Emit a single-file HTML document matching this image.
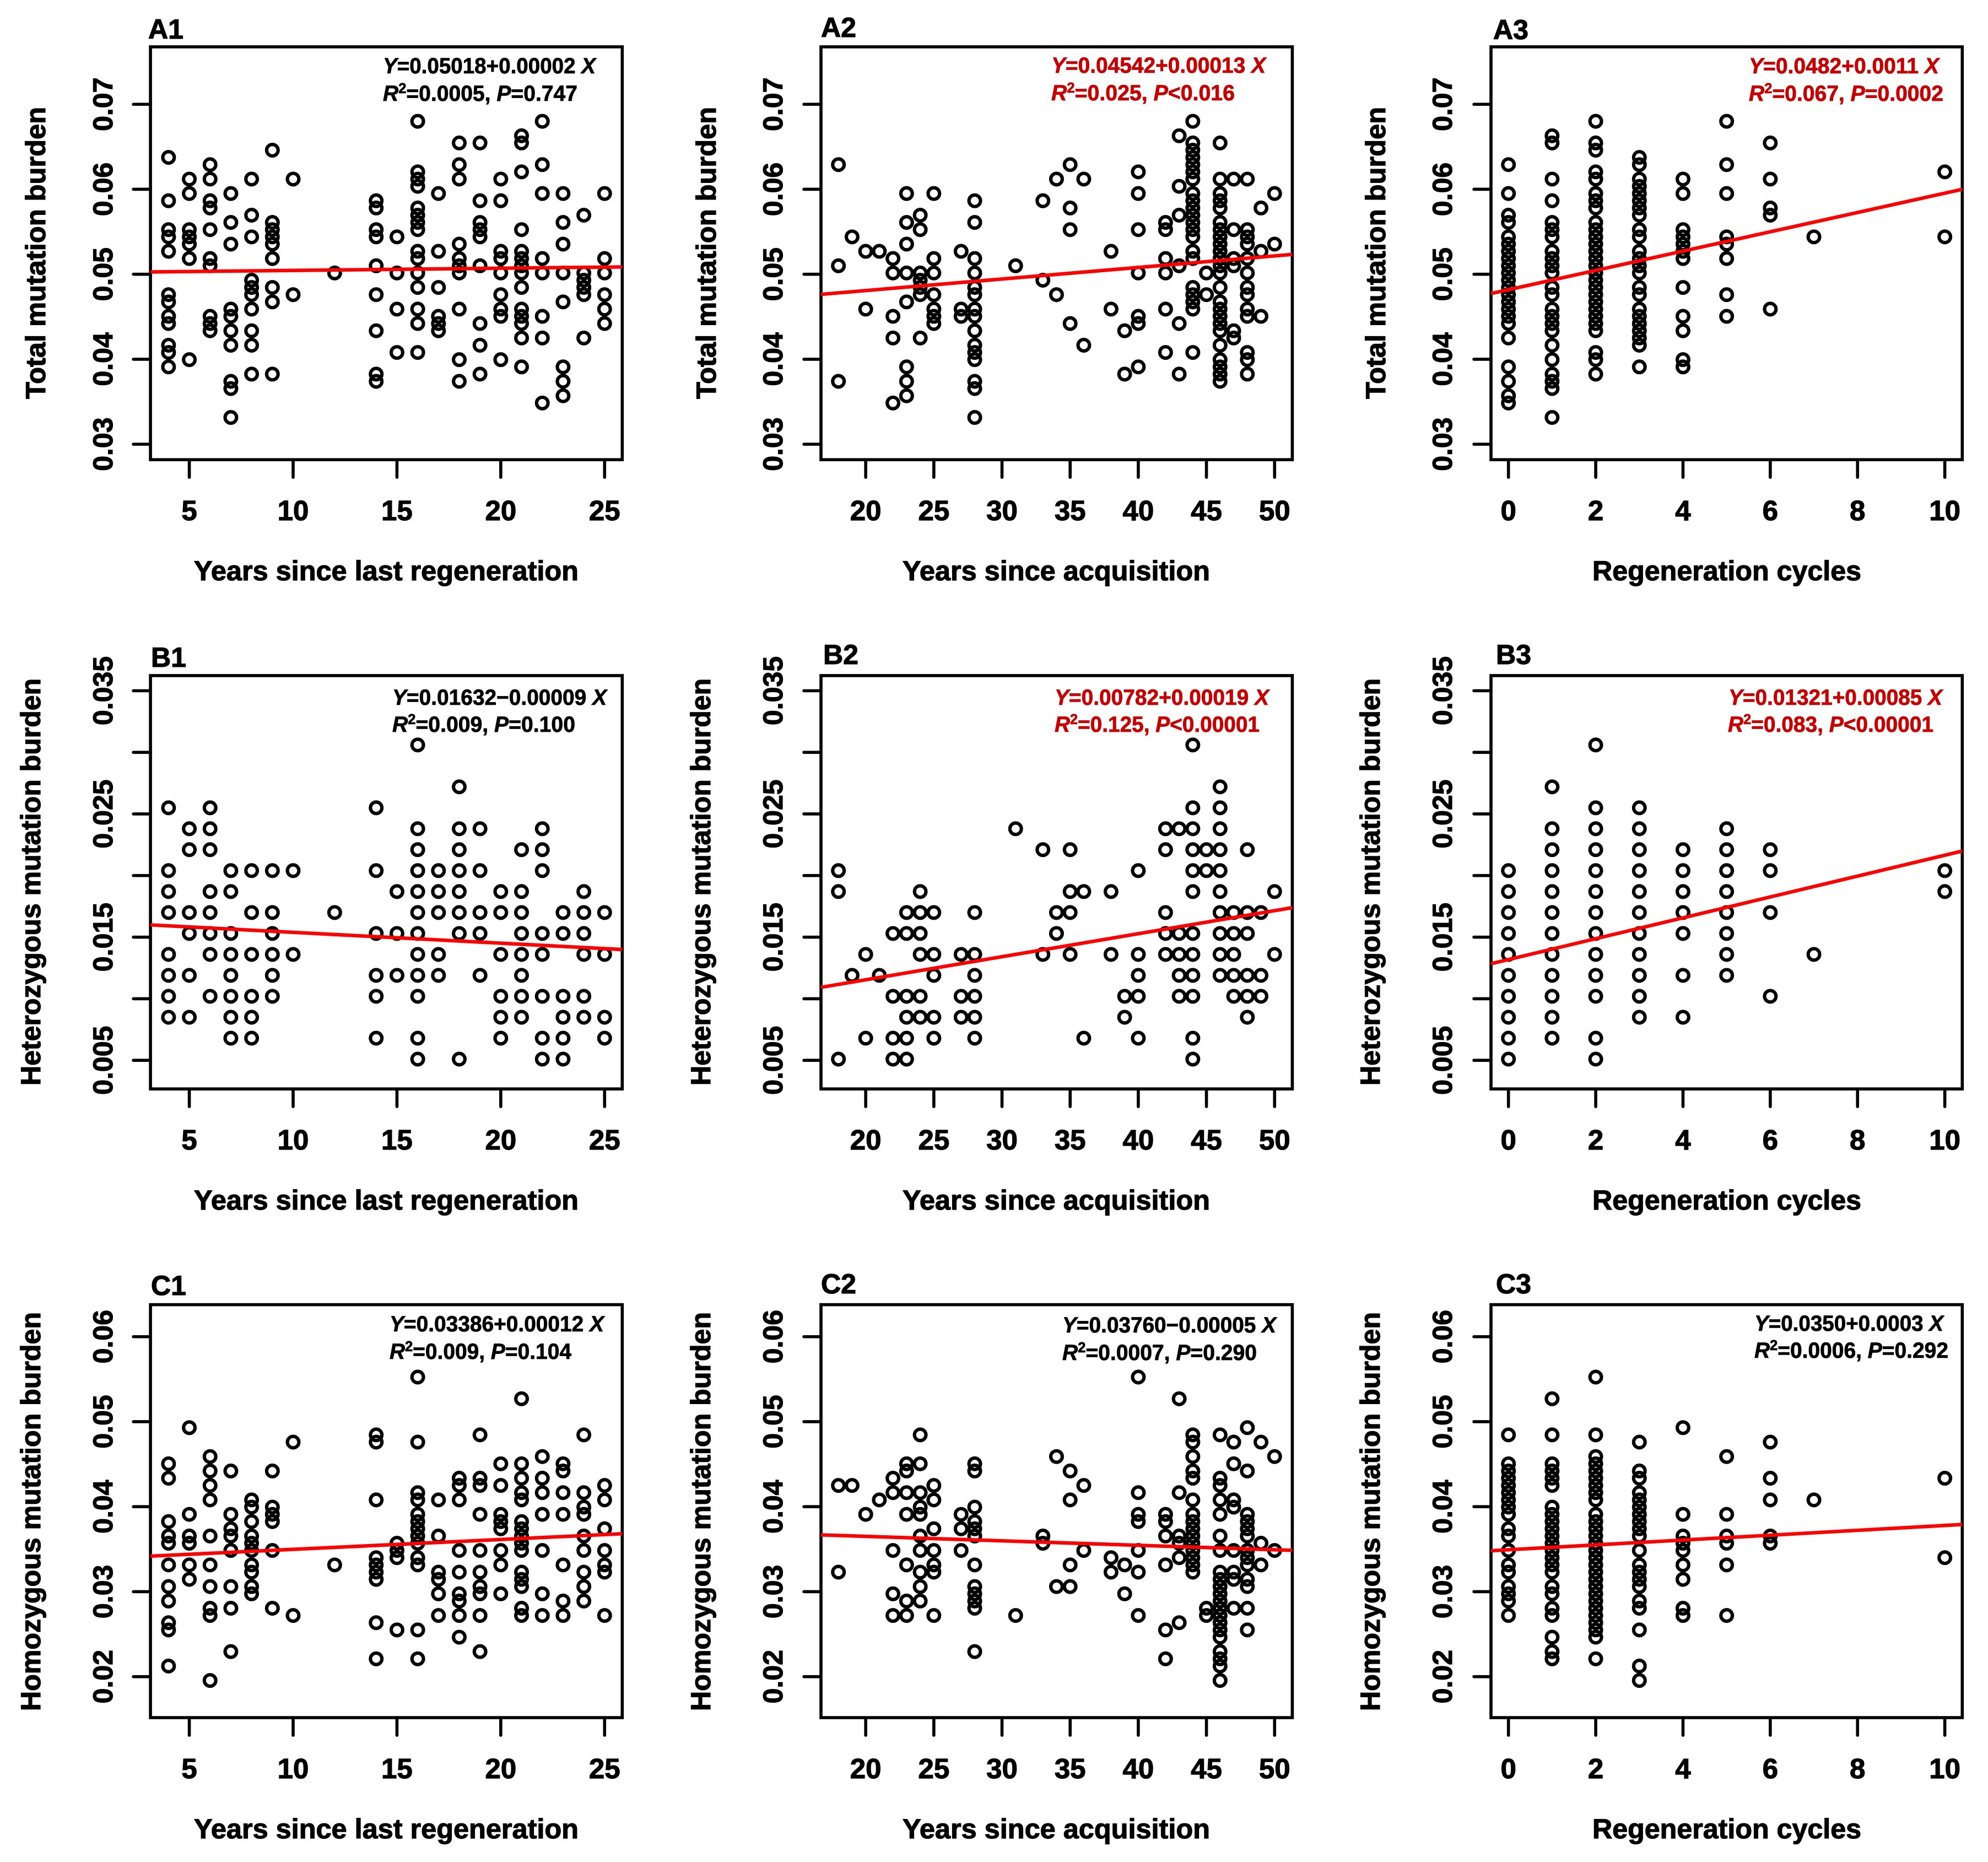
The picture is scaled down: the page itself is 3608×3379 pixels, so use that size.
<!DOCTYPE html>
<html lang="en">
<head>
<meta charset="utf-8">
<title>Mutation burden regressions</title>
<style>
html,body{margin:0;padding:0;background:#fff;width:3608px;height:3379px;overflow:hidden}
svg{display:block;font-family:"Liberation Sans",Arial,sans-serif;font-weight:bold}
text{fill:#000;stroke:#000;stroke-width:1.2px}
.pl{font-size:50px}
.ttl{font-size:50px}
.st{font-size:40px;stroke-width:.8px}
text.red{fill:#c60000;stroke:#c60000}
.it{font-style:italic}
.sup{font-size:26px}
</style>
</head>
<body>
<svg id="fig" xmlns="http://www.w3.org/2000/svg" width="3608" height="3379" viewBox="0 0 3608 3379">
<rect width="3608" height="3379" fill="#fff"/>
<g id="marks"></g>

<!-- panel labels -->
<text class="pl" x="269" y="70">A1</text>
<text class="pl" x="1490" y="67">A2</text>
<text class="pl" x="2710" y="71">A3</text>
<text class="pl" x="274" y="1210">B1</text>
<text class="pl" x="1494" y="1205">B2</text>
<text class="pl" x="2715" y="1205">B3</text>
<text class="pl" x="274" y="2350">C1</text>
<text class="pl" x="1490" y="2347">C2</text>
<text class="pl" x="2715" y="2347">C3</text>

<!-- x axis titles -->
<text class="ttl" x="352" y="1053" textLength="698" lengthAdjust="spacingAndGlyphs">Years since last regeneration</text>
<text class="ttl" x="1638" y="1053" textLength="558" lengthAdjust="spacingAndGlyphs">Years since acquisition</text>
<text class="ttl" x="2890" y="1053" textLength="488" lengthAdjust="spacingAndGlyphs">Regeneration cycles</text>
<text class="ttl" x="352" y="2195" textLength="698" lengthAdjust="spacingAndGlyphs">Years since last regeneration</text>
<text class="ttl" x="1638" y="2195" textLength="558" lengthAdjust="spacingAndGlyphs">Years since acquisition</text>
<text class="ttl" x="2890" y="2195" textLength="488" lengthAdjust="spacingAndGlyphs">Regeneration cycles</text>
<text class="ttl" x="352" y="3336" textLength="698" lengthAdjust="spacingAndGlyphs">Years since last regeneration</text>
<text class="ttl" x="1638" y="3336" textLength="558" lengthAdjust="spacingAndGlyphs">Years since acquisition</text>
<text class="ttl" x="2890" y="3336" textLength="488" lengthAdjust="spacingAndGlyphs">Regeneration cycles</text>

<!-- y axis titles -->
<text class="ttl" transform="translate(82,724) rotate(-90)" textLength="530" lengthAdjust="spacingAndGlyphs">Total mutation burden</text>
<text class="ttl" transform="translate(1299,724) rotate(-90)" textLength="530" lengthAdjust="spacingAndGlyphs">Total mutation burden</text>
<text class="ttl" transform="translate(2514,724) rotate(-90)" textLength="530" lengthAdjust="spacingAndGlyphs">Total mutation burden</text>
<text class="ttl" transform="translate(73,1970) rotate(-90)" textLength="739" lengthAdjust="spacingAndGlyphs">Heterozygous mutation burden</text>
<text class="ttl" transform="translate(1289,1970) rotate(-90)" textLength="739" lengthAdjust="spacingAndGlyphs">Heterozygous mutation burden</text>
<text class="ttl" transform="translate(2504,1970) rotate(-90)" textLength="739" lengthAdjust="spacingAndGlyphs">Heterozygous mutation burden</text>
<text class="ttl" transform="translate(73,3105) rotate(-90)" textLength="724" lengthAdjust="spacingAndGlyphs">Homozygous mutation burden</text>
<text class="ttl" transform="translate(1289,3105) rotate(-90)" textLength="724" lengthAdjust="spacingAndGlyphs">Homozygous mutation burden</text>
<text class="ttl" transform="translate(2504,3105) rotate(-90)" textLength="724" lengthAdjust="spacingAndGlyphs">Homozygous mutation burden</text>

<!-- regression statistics -->
<text class="st" x="695" y="133" textLength="386" lengthAdjust="spacingAndGlyphs"><tspan class="it">Y</tspan>=0.05018+0.00002<tspan class="it"> X</tspan></text>
<text class="st" x="695" y="183" textLength="353" lengthAdjust="spacingAndGlyphs"><tspan class="it">R</tspan><tspan class="sup" dy="-14">2</tspan><tspan dy="14">=0.0005, </tspan><tspan class="it">P</tspan>=0.747</text>
<text class="st red" x="1908" y="132" textLength="389" lengthAdjust="spacingAndGlyphs"><tspan class="it">Y</tspan>=0.04542+0.00013<tspan class="it"> X</tspan></text>
<text class="st red" x="1908" y="182" textLength="333" lengthAdjust="spacingAndGlyphs"><tspan class="it">R</tspan><tspan class="sup" dy="-14">2</tspan><tspan dy="14">=0.025, </tspan><tspan class="it">P</tspan>&lt;0.016</text>
<text class="st red" x="3174" y="133" textLength="345" lengthAdjust="spacingAndGlyphs"><tspan class="it">Y</tspan>=0.0482+0.0011<tspan class="it"> X</tspan></text>
<text class="st red" x="3174" y="183" textLength="353" lengthAdjust="spacingAndGlyphs"><tspan class="it">R</tspan><tspan class="sup" dy="-14">2</tspan><tspan dy="14">=0.067, </tspan><tspan class="it">P</tspan>=0.0002</text>
<text class="st" x="712" y="1279" textLength="389" lengthAdjust="spacingAndGlyphs"><tspan class="it">Y</tspan>=0.01632−0.00009<tspan class="it"> X</tspan></text>
<text class="st" x="712" y="1328" textLength="332" lengthAdjust="spacingAndGlyphs"><tspan class="it">R</tspan><tspan class="sup" dy="-14">2</tspan><tspan dy="14">=0.009, </tspan><tspan class="it">P</tspan>=0.100</text>
<text class="st red" x="1914" y="1279" textLength="389" lengthAdjust="spacingAndGlyphs"><tspan class="it">Y</tspan>=0.00782+0.00019<tspan class="it"> X</tspan></text>
<text class="st red" x="1914" y="1328" textLength="372" lengthAdjust="spacingAndGlyphs"><tspan class="it">R</tspan><tspan class="sup" dy="-14">2</tspan><tspan dy="14">=0.125, </tspan><tspan class="it">P</tspan>&lt;0.00001</text>
<text class="st red" x="3137" y="1279" textLength="388" lengthAdjust="spacingAndGlyphs"><tspan class="it">Y</tspan>=0.01321+0.00085<tspan class="it"> X</tspan></text>
<text class="st red" x="3136" y="1328" textLength="373" lengthAdjust="spacingAndGlyphs"><tspan class="it">R</tspan><tspan class="sup" dy="-14">2</tspan><tspan dy="14">=0.083, </tspan><tspan class="it">P</tspan>&lt;0.00001</text>
<text class="st" x="707" y="2416" textLength="389" lengthAdjust="spacingAndGlyphs"><tspan class="it">Y</tspan>=0.03386+0.00012<tspan class="it"> X</tspan></text>
<text class="st" x="707" y="2466" textLength="330" lengthAdjust="spacingAndGlyphs"><tspan class="it">R</tspan><tspan class="sup" dy="-14">2</tspan><tspan dy="14">=0.009, </tspan><tspan class="it">P</tspan>=0.104</text>
<text class="st" x="1928" y="2418" textLength="388" lengthAdjust="spacingAndGlyphs"><tspan class="it">Y</tspan>=0.03760−0.00005<tspan class="it"> X</tspan></text>
<text class="st" x="1928" y="2468" textLength="353" lengthAdjust="spacingAndGlyphs"><tspan class="it">R</tspan><tspan class="sup" dy="-14">2</tspan><tspan dy="14">=0.0007, </tspan><tspan class="it">P</tspan>=0.290</text>
<text class="st" x="3184" y="2415" textLength="343" lengthAdjust="spacingAndGlyphs"><tspan class="it">Y</tspan>=0.0350+0.0003<tspan class="it"> X</tspan></text>
<text class="st" x="3184" y="2464" textLength="352" lengthAdjust="spacingAndGlyphs"><tspan class="it">R</tspan><tspan class="sup" dy="-14">2</tspan><tspan dy="14">=0.0006, </tspan><tspan class="it">P</tspan>=0.292</text>
</svg>
<script>
// ---- tick labels ----
const yearsRegenTicks = [5,10,15,20,25];
const yearsAcqTicks = [20,25,30,35,40,45,50];
const cycleTicks = [0,2,4,6,8,10];
const totalTicks = ['0.03','0.04','0.05','0.06','0.07'];
const hetTickValues = [0.005,0.01,0.015,0.02,0.025,0.03,0.035];
const hetTickLabels = ['0.005','','0.015','','0.025','','0.035'];
const homTicks = ['0.02','0.03','0.04','0.05','0.06'];

// ---- x categories ----
const a1X = [4,5,6,7,8,9,10,12,14,15,16,17,18,19,20,21,22,23,24,25];
const a2X = [18,19,20,21,22,23,24,25,27,28,31,33,34,35,36,38,39,40,42,43,44,45,46,47,48,49,50];
const a3X = [0,1,2,3,4,5,6,7,10];
const b1X = [4,5,6,7,8,9,10,12,14,15,16,17,18,19,20,21,22,23,24,25];
const b2X = [18,19,20,21,22,23,24,25,27,28,31,33,34,35,36,38,39,40,42,43,44,45,46,47,48,49,50];
const b3X = [0,1,2,3,4,5,6,7,10];
const c1X = [4,5,6,7,8,9,10,12,14,15,16,17,18,19,20,21,22,23,24,25];
const c2X = [18,19,20,21,22,23,24,25,27,28,31,33,34,35,36,38,39,40,42,43,44,45,46,47,48,49,50];
const c3X = [0,1,2,3,4,5,6,7,10];

// ---- series values, one inner array per x category ----
const a1Y = [
[.06375,.05865,.05525,.0544,.0527,.0476,.04675,.04505,.0442,.04165,.0408,.0391],
[.0612,.0595,.05525,.0544,.05355,.05185,.03995],
[.0629,.0612,.05865,.0578,.05525,.05185,.051,.04505,.0442,.04335],
[.0595,.0561,.05355,.0459,.04505,.04335,.04165,.0374,.03655,.03315],
[.0612,.05695,.0544,.0493,.04845,.0476,.0459,.04335,.04165,.03825],
[.0646,.0561,.05525,.0544,.05355,.05185,.04845,.04675,.03825],
[.0612,.0476],
[.05015],
[.05865,.0578,.05525,.0544,.051,.0476,.04335,.03825,.0374],
[.0544,.05015,.0459,.0408],
[.068,.06205,.0612,.06035,.0578,.05695,.0561,.05525,.0527,.05185,.05015,.04845,.0459,.0442,.0408],
[.0595,.0527,.04845,.04505,.0442,.04335],
[.06545,.0629,.0612,.05355,.05185,.051,.05015,.0459,.03995,.0374],
[.06545,.05865,.0561,.05525,.0544,.051,.0442,.04165,.03825],
[.0612,.05865,.0527,.05185,.05015,.0476,.0459,.04505,.03995],
[.0663,.06545,.06205,.05525,.0527,.05185,.051,.05015,.04845,.0459,.04505,.0442,.0425,.0391],
[.068,.0629,.0595,.05185,.05015,.04505,.0425,.03485],
[.0595,.0561,.05355,.05015,.04675,.0391,.0374,.0357],
[.05695,.05015,.0493,.04845,.0476,.0425],
[.0595,.05185,.05015,.0476,.0459,.0442]];
const a2Y = [
[.0629,.051,.0374],[.0544],[.0527,.0459],[.0527],
[.05185,.05015,.04505,.0425,.03485],
[.0595,.0561,.05355,.05015,.04675,.0391,.0374,.0357],
[.05695,.05525,.05015,.0493,.04845,.0476,.0425],
[.0595,.05185,.05015,.0476,.0459,.04505,.0442],
[.0527,.0459,.04505],
[.05865,.0561,.05185,.05015,.04845,.0476,.0459,.04505,.04335,.04165,.0408,.03995,.0374,.03655,.03315],
[.051],[.05865,.0493],[.0612,.0476],[.0629,.0578,.05525,.0442],[.0612,.04165],[.0527,.0459],[.04335,.03825],
[.06205,.0595,.05525,.05015,.04505,.0442,.0391],
[.0561,.05525,.05185,.05015,.0459,.0408],
[.0663,.06035,.05695,.051,.0442,.03825],
[.068,.06545,.0646,.06375,.0629,.06205,.0612,.0595,.05865,.0578,.05695,.0561,.05525,.0544,.0527,.05185,.04845,.0476,.04675,.0459,.0408],
[.05015,.0476],
[.06545,.0612,.0595,.05865,.0578,.0561,.05525,.0544,.05355,.0527,.05185,.051,.05015,.04845,.04675,.0459,.04505,.0442,.04335,.04165,.03995,.0391,.03825,.0374],
[.0612,.05525,.05185,.051,.04335,.0425],
[.0612,.05525,.0544,.05355,.05185,.05015,.04845,.0476,.0459,.04505,.0408,.03995,.03825],
[.0578,.0527,.04505],
[.0595,.05355]];
const a3Y = [
[.0629,.0595,.05695,.0561,.0544,.05355,.0527,.05185,.051,.05015,.0493,.04845,.0476,.04675,.0459,.04505,.0442,.0425,.0391,.0374,.0357,.03485],
[.0663,.06545,.0612,.05865,.0561,.05525,.0544,.0527,.05185,.051,.05015,.04845,.0476,.0459,.04505,.0442,.04335,.04165,.03995,.03825,.0374,.03655,.03315],
[.068,.06545,.0646,.06205,.0612,.0595,.05865,.0578,.0561,.05525,.0544,.05355,.0527,.05185,.051,.05015,.0493,.04845,.0476,.04675,.0459,.04505,.0442,.04335,.0408,.03995,.03825],
[.06375,.0629,.0612,.06035,.0595,.05865,.0578,.05695,.05525,.0544,.0527,.05185,.051,.05015,.04845,.0476,.0459,.04505,.0442,.04335,.0425,.04165,.0391],
[.0612,.0595,.05525,.0544,.05355,.0527,.05185,.04845,.04505,.04335,.03995,.0391],
[.068,.0629,.0595,.0544,.05355,.05185,.0476,.04505],
[.06545,.0612,.0578,.05695,.0459],
[.0544],
[.06205,.0544]];
const b1Y = [
[.0255,.0204,.0187,.017,.0136,.0119,.0102,.0085],
[.0238,.0221,.017,.0153,.0119,.0085],
[.0255,.0238,.0221,.0187,.017,.0153,.0136,.0102],
[.0204,.0187,.0153,.0136,.0119,.0102,.0085,.0068],
[.0204,.017,.0136,.0102,.0085,.0068],
[.0204,.017,.0153,.0136,.0119,.0102],
[.0204,.0136],
[.017],
[.0255,.0204,.0153,.0119,.0102,.0068],
[.0187,.0153,.0119],
[.0306,.0238,.0221,.0204,.0187,.017,.0153,.0136,.0119,.0102,.0068,.0051],
[.0204,.0187,.017,.0136,.0119],
[.0272,.0238,.0221,.0204,.0187,.017,.0153,.0051],
[.0238,.0204,.017,.0153,.0119],
[.0187,.017,.0136,.0102,.0085,.0068],
[.0221,.0187,.017,.0153,.0136,.0119,.0102,.0085],
[.0238,.0221,.0204,.0153,.0136,.0102,.0068,.0051],
[.017,.0153,.0102,.0085,.0068,.0051],
[.0187,.017,.0153,.0136,.0102,.0085],
[.017,.0136,.0085,.0068]];
const b2Y = [
[.0204,.0187,.0051],[.0119],[.0136,.0068],[.0119],
[.0153,.0102,.0068,.0051],
[.017,.0153,.0102,.0085,.0068,.0051],
[.0187,.017,.0153,.0136,.0102,.0085],
[.017,.0136,.0119,.0085,.0068],
[.0136,.0102,.0085],
[.017,.0136,.0119,.0102,.0085,.0068],
[.0238],[.0221,.0136],[.017,.0153],[.0221,.0187,.017,.0136],[.0187,.0068],[.0187,.0136],[.0102,.0085],
[.0204,.0136,.0119,.0102,.0068],
[.0238,.0221,.017,.0153,.0136],
[.0238,.0153,.0136,.0119,.0102],
[.0306,.0255,.0238,.0221,.0204,.0187,.0153,.0136,.0119,.0102,.0068,.0051],
[.0221,.0204],
[.0272,.0255,.0238,.0221,.0204,.0187,.017,.0153,.0136,.0119],
[.017,.0153,.0136,.0119,.0102],
[.0221,.017,.0153,.0119,.0102,.0085],
[.017,.0119,.0102],
[.0187,.0136]];
const b3Y = [
[.0204,.0187,.017,.0153,.0136,.0119,.0102,.0085,.0068,.0051],
[.0272,.0238,.0221,.0204,.0187,.017,.0153,.0136,.0119,.0102,.0085,.0068],
[.0306,.0255,.0238,.0221,.0204,.0187,.017,.0153,.0136,.0119,.0102,.0068,.0051],
[.0255,.0238,.0221,.0204,.0187,.017,.0153,.0136,.0119,.0102,.0085],
[.0221,.0204,.0187,.017,.0153,.0119,.0085],
[.0238,.0221,.0204,.0187,.017,.0153,.0136,.0119],
[.0221,.0204,.017,.0102],
[.0136],
[.0204,.0187]];
const c1Y = [
[.04505,.04335,.03825,.03655,.0357,.03315,.0306,.0289,.02635,.0255,.02125],
[.0493,.0391,.03655,.0357,.03315,.03145],
[.0459,.0442,.0425,.0408,.03655,.03315,.0306,.02805,.0272,.01955],
[.0442,.0391,.0374,.03655,.03485,.0306,.02805,.02295],
[.0408,.03995,.03825,.03655,.0357,.03485,.03315,.0323,.0306,.02975],
[.0442,.03995,.0391,.03825,.03485,.02805],
[.0476,.0272],
[.03315],
[.04845,.0476,.0408,.034,.03315,.0323,.03145,.02635,.0221],
[.0357,.03485,.034,.0255],
[.05525,.0476,.04165,.0408,.0391,.03825,.0374,.03655,.0357,.034,.03315,.0255,.0221],
[.0408,.03655,.0323,.03145,.02975,.0272],
[.04335,.0425,.0408,.03485,.0323,.02975,.0289,.0272,.02465],
[.04845,.04335,.0425,.0391,.03485,.0323,.0306,.02975,.0272,.02295],
[.04505,.0425,.0391,.03825,.0374,.03485,.03315,.02975],
[.0527,.04505,.04335,.04165,.0408,.03825,.0374,.03655,.0357,.03485,.0323,.03145,.0306,.02805,.0272],
[.0459,.04335,.04165,.0391,.03485,.02975,.0272],
[.04505,.0442,.04165,.0391,.03315,.0289,.0272],
[.04845,.04165,.03995,.0391,.03655,.03485,.0323,.0306,.0289],
[.0425,.0408,.0374,.03485,.03315,.0323,.0272]];
const c2Y = [
[.0425,.0323],[.0425],[.0391],[.0408],
[.04335,.04165,.03485,.02975,.0272],
[.04505,.0442,.04165,.0391,.03315,.0289,.0272],
[.04845,.04505,.04165,.03995,.0391,.03655,.03485,.0323,.0306,.0289],
[.0425,.0408,.0374,.03485,.03315,.0323,.0272],
[.0391,.0374,.03485],
[.04505,.0442,.03995,.03825,.0374,.03655,.03315,.0306,.02975,.0289,.02805,.02295],
[.0272],[.03655,.0357],[.0459,.0306],[.0442,.0408,.03315,.0306],[.0425,.03485],[.034,.0323],[.03315,.02975],
[.05525,.04165,.0391,.03825,.03485,.0323,.0272],
[.0391,.03825,.03655,.03315,.0255,.0221],
[.0527,.04165,.03655,.0357,.034,.02635],
[.04845,.0476,.0459,.0442,.04335,.0408,.0391,.03825,.0374,.03655,.0357,.03485,.034,.03315,.0323],
[.02805,.0272],
[.04845,.04335,.0425,.0408,.0391,.03655,.03485,.0323,.03145,.0306,.02975,.0289,.02805,.0272,.02635,.0255,.02465,.02295,.0221,.02125,.01955],
[.0476,.04505,.0408,.03995,.03485,.0323,.03145,.02805],
[.0493,.0442,.0391,.03825,.0374,.03655,.03485,.034,.03315,.03145,.0306,.02805,.0255],
[.0476,.0357,.03315],
[.0459,.03485]];
const c3Y = [
[.04845,.04505,.0442,.04335,.0425,.04165,.0408,.03995,.0391,.0374,.03655,.03485,.03315,.0323,.0306,.02975,.0289,.0272],
[.0527,.04845,.04505,.0442,.04335,.0425,.03995,.0391,.03825,.0374,.03655,.0357,.03485,.034,.03315,.0323,.0306,.02975,.02805,.0272,.02465,.02295,.0221],
[.05525,.04845,.0459,.04505,.0442,.04335,.0425,.04165,.0408,.0391,.03825,.0374,.03655,.0357,.03485,.034,.03315,.0323,.03145,.0306,.02975,.0289,.02805,.0272,.02635,.0255,.02465,.0221],
[.0476,.0442,.04335,.04165,.0408,.03995,.0391,.03825,.0374,.03655,.03485,.03315,.0323,.03145,.0306,.0289,.02805,.0255,.02125,.01955],
[.0493,.0391,.03655,.0357,.03485,.03315,.03145,.02805,.0272],
[.0459,.0391,.03655,.0357,.03315,.0272],
[.0476,.04335,.0408,.03655,.0357],
[.0408],
[.04335,.034]];

// ---- fitted lines: [intercept, slope] as drawn ----
const a1Fit = [.05019,.000026];
const a2Fit = [.04536,.000136];
const a3Fit = [.04818,.001136];
const b1Fit = [.01627,-.000088];
const b2Fit = [.0078,.000187];
const b3Fit = [.01318,.000847];
const c1Fit = [.03382,.000116];
const c2Fit = [.03756,-.0000526];
const c3Fit = [.03493,.000286];

// ---- layout ----
const columnLayouts = [
  {left:273.1,right:1129.3,dom:[3.13,25.85],ticks:yearsRegenTicks,labelX:204},
  {left:1490,right:2345.4,dom:[16.72,51.3],ticks:yearsAcqTicks,labelX:1420},
  {left:2706,right:3561.3,dom:[-0.4,10.4],ticks:cycleTicks,labelX:2635}
];
const rowLayouts = [
  {top:85,bottom:834.2,dom:[.02818,.07676],tickVals:totalTicks.map(Number),tickLabels:totalTicks},
  {top:1226,bottom:1976.1,dom:[.00268,.03623],tickVals:hetTickValues,tickLabels:hetTickLabels},
  {top:2367.6,bottom:3117,dom:[.01518,.06377],tickVals:homTicks.map(Number),tickLabels:homTicks}
];
const panels = [
  {id:'a1',r:0,c:0,x:a1X,y:a1Y,fit:a1Fit},{id:'a2',r:0,c:1,x:a2X,y:a2Y,fit:a2Fit},{id:'a3',r:0,c:2,x:a3X,y:a3Y,fit:a3Fit},
  {id:'b1',r:1,c:0,x:b1X,y:b1Y,fit:b1Fit},{id:'b2',r:1,c:1,x:b2X,y:b2Y,fit:b2Fit},{id:'b3',r:1,c:2,x:b3X,y:b3Y,fit:b3Fit},
  {id:'c1',r:2,c:0,x:c1X,y:c1Y,fit:c1Fit},{id:'c2',r:2,c:1,x:c2X,y:c2Y,fit:c2Fit},{id:'c3',r:2,c:2,x:c3X,y:c3Y,fit:c3Fit}
];

const NS = 'http://www.w3.org/2000/svg';
function mk(tag, attrs, parent){
  const el = document.createElementNS(NS, tag);
  for (const k in attrs) el.setAttribute(k, attrs[k]);
  parent.appendChild(el);
  return el;
}
const root = document.getElementById('marks');

panels.forEach(function(p){
  const col = columnLayouts[p.c], row = rowLayouts[p.r];
  const sx = function(v){ return col.left + (v - col.dom[0]) / (col.dom[1] - col.dom[0]) * (col.right - col.left); };
  const sy = function(v){ return row.bottom - (v - row.dom[0]) / (row.dom[1] - row.dom[0]) * (row.bottom - row.top); };

  const g = mk('g', {}, root);
  
  

  // points
  p.x.forEach(function(xv, i){
    p.y[i].forEach(function(yv){
      const c = mk('circle', {cx:sx(xv), cy:sy(yv), r:10.4, fill:'none', stroke:'#000', 'stroke-width':6.2}, g);
      
      
    });
  });

  // plot frame
  const frame = mk('rect', {x:col.left, y:row.top, width:col.right-col.left, height:row.bottom-row.top, fill:'none', stroke:'#000', 'stroke-width':5.6}, g);
  
  

  // fit line
  const fit = mk('line', {
    x1:col.left, y1:sy(p.fit[0] + p.fit[1]*col.dom[0]),
    x2:col.right, y2:sy(p.fit[0] + p.fit[1]*col.dom[1]),
    stroke:'#ff0000', 'stroke-width':6.4
  }, g);
  
  

  // x ticks
  col.ticks.forEach(function(t){
    const tick = mk('line', {x1:sx(t), x2:sx(t), y1:row.bottom, y2:row.bottom+32, stroke:'#000', 'stroke-width':5.6, 'stroke-linecap':'round'}, g);
    
    
    const lab = mk('text', {x:sx(t), y:row.bottom+110, 'text-anchor':'middle', 'font-size':51}, g);
    lab.textContent = String(t);
    
    
  });

  // y ticks
  row.tickVals.forEach(function(t, i){
    const tick = mk('line', {x1:col.left-31, x2:col.left, y1:sy(t), y2:sy(t), stroke:'#000', 'stroke-width':5.6, 'stroke-linecap':'round'}, g);
    
    
    if (row.tickLabels[i]) {
      const lab = mk('text', {transform:'translate(' + col.labelX + ',' + sy(t) + ') rotate(-90)', 'text-anchor':'middle', 'font-size':50}, g);
      lab.textContent = row.tickLabels[i];
      
      
    }
  });
});
</script>
</body>
</html>
